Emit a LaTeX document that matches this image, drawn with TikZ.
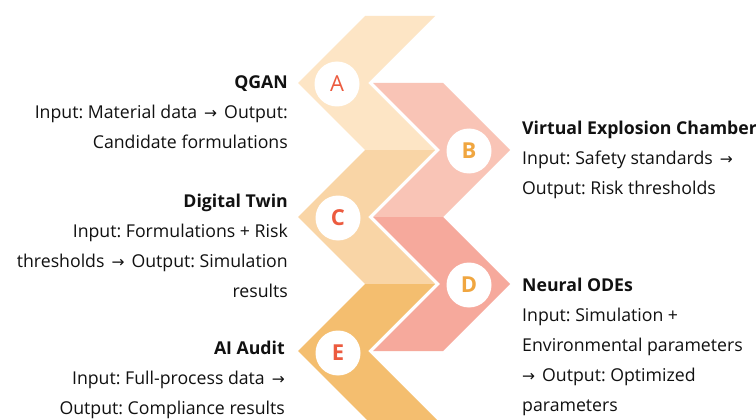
\documentclass[tikz,border=0pt]{standalone}
\usepackage{fontspec}
\setmainfont{Open Sans}
\newfontfamily\arrowfont{DejaVu Sans}
\newcommand{\arrglyph}{{\arrowfont\fontsize{15.5}{30}\selectfont →}}
\newcommand{\rarr}{\hspace{7pt}\arrglyph\hspace{7pt}}
\frenchspacing
\definecolor{cA}{HTML}{FDE5C5}
\definecolor{cB}{HTML}{F9C4B6}
\definecolor{cC}{HTML}{F9D5A6}
\definecolor{cD}{HTML}{F6A99C}
\definecolor{cE}{HTML}{F4BE6F}
\definecolor{lred}{HTML}{EC5B3F}
\definecolor{lorange}{HTML}{F0A640}
\definecolor{txt}{HTML}{111111}
\tikzset{
  badge/.style={circle,fill=white,minimum size=45pt,inner sep=0pt,font=\fontsize{22}{22}\selectfont},
  ltext/.style={anchor=base east,align=right,inner sep=0pt,text=txt,font=\fontsize{17.7}{30}\selectfont},
  rtext/.style={anchor=base west,align=left,inner sep=0pt,text=txt,font=\fontsize{17.7}{30}\selectfont}
}
\begin{document}
\begin{tikzpicture}[x=1pt,y=-1pt]
\useasboundingbox (0,0) rectangle (756,420);
\fill[white] (0,0) rectangle (756,420);
\begin{scope}
\clip (0,0) rectangle (756,420);
% left-pointing chevrons
\fill[cA] (365,16) -- (435,16) -- (368,83) -- (435,150) -- (365,150) -- (298,83) -- cycle;
\fill[cC] (365,150) -- (435,150) -- (368,217) -- (435,284) -- (365,284) -- (298,217) -- cycle;
\fill[cE] (365,284) -- (435,284) -- (368,351) -- (435,418) -- (365,418) -- (298,351) -- cycle;
\fill[cE] (365,418) -- (435,418) -- (437,420) -- (367,420) -- cycle;
% right-pointing chevrons
\fill[cB] (373,83) -- (443,83) -- (510,150) -- (443,217) -- (373,217) -- (440,150) -- cycle;
\fill[cD] (373,217) -- (443,217) -- (510,284) -- (443,351) -- (373,351) -- (440,284) -- cycle;
\end{scope}
% badges
\node[badge,text=lred] (bA) at (337,84) {A};
\node[badge,text=lorange] (bB) at (469,151) {\bfseries B};
\node[badge,text=lred] (bC) at (338,218) {\bfseries C};
\node[badge,text=lorange] (bD) at (469,285) {\bfseries D};
\node[badge,text=lred] (bE) at (338,353) {\bfseries E};
% texts (base anchor = baseline of last line)
\node[ltext] (tA) at (288,148) {\textbf{QGAN}\\Input: Material data\rarr Output:\\Candidate formulations};
\node[ltext] (tC) at (288,297) {\textbf{Digital Twin}\\Input: Formulations + Risk\\thresholds\rarr Output: Simulation\\results};
\node[ltext] (tE) at (285,414) {\textbf{AI Audit}\\Input: Full-process data\hspace{7pt}\arrglyph\\Output: Compliance results};
\node[rtext] (tB) at (522,194) {\textbf{Virtual Explosion Chamber}\\Input: Safety standards\hspace{7pt}\arrglyph\\Output: Risk thresholds};
\node[rtext] (tD) at (522,411) {\textbf{Neural ODEs}\\Input: Simulation +\\Environmental parameters\\\arrglyph\hspace{7pt}Output: Optimized\\parameters};
\end{tikzpicture}
\end{document}
